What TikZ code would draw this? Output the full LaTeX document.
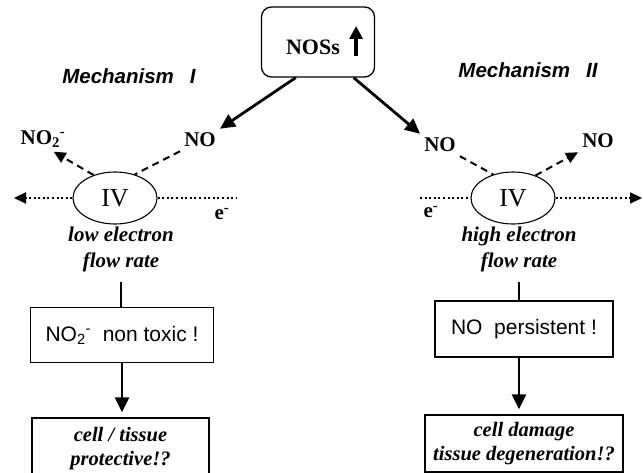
\documentclass[tikz,border=0pt]{standalone}
\usepackage{fontspec}
\setmainfont{Liberation Serif}
\setsansfont{Liberation Sans}
\usepackage{tikz}
\usetikzlibrary{arrows,arrows.meta,shapes.geometric}

\begin{document}
\begin{tikzpicture}[x=1pt,y=-1pt]

	\tikzstyle chem label=[font=\bfseries\fontsize{21}{22}\selectfont, inner sep=4pt];
	\tikzstyle mech title=[font=\sffamily\bfseries\itshape\fontsize{20.5}{22}\selectfont];
	\tikzstyle rate text=[font=\bfseries\itshape\fontsize{21}{26}\selectfont, align=center, inner sep=1pt];
	\tikzstyle complex IV=[draw, ellipse, line width=1.1pt, minimum width=84pt, minimum height=52pt, inner sep=0pt, font=\fontsize{26}{28}\selectfont];
	\tikzstyle result box=[draw, line width=1.3pt, font=\sffamily\fontsize{21}{22}\selectfont];
	\tikzstyle outcome box=[draw, line width=1.3pt, align=center, font=\bfseries\itshape\fontsize{20.5}{24}\selectfont];
	\tikzstyle main arrow=[line width=2.8pt, -{Triangle[length=15pt,width=14pt]}];
	\tikzstyle no path=[line width=2pt, dash pattern=on 7pt off 5pt];
	\tikzstyle electron path=[line width=2pt, dash pattern=on 2pt off 2.6pt];
	\tikzstyle small tip=[-{Triangle[length=12pt,width=11pt]}];

	\useasboundingbox (0,0) rectangle (643,473);

	% NOS box on top
	\node[draw, rounded corners=10pt, line width=1.3pt, minimum width=113pt, minimum height=70pt] (nos) at (318,42) {};
	\node[chem label, font=\bfseries\fontsize{22}{22}\selectfont] (nosTxt) at (313,47) {NOSs};
	\draw[line width=3.6pt, -{Triangle[length=13pt,width=13pt]}] (nosTxt.east) ++(12,9) -- ++(0,-30);

	\node[mech title] (mechI) at (129,76) {Mechanism\hspace{16pt}I};
	\node[mech title] (mechII) at (528,70) {Mechanism\hspace{16pt}II};

	% labels round the two complexes
	\foreach \n/\x/\y/\t in {noL/200/140/NO, noR/440/145/NO, noOut/598/141/NO, eL/222/214/e\textsuperscript{-}, eR/431/212/e\textsuperscript{-}}
		\node[chem label] (\n) at (\x,\y) {\t};
	\node[chem label] (noiiL) at (43,139) {NO\textsubscript{2}\textsuperscript{-}};

	\node[complex IV] (ivL) at (115,198) {IV};
	\node[complex IV] (ivR) at (513,198) {IV};

	\coordinate (eLend) at (14,198);
	\coordinate (eLstart) at (237,198);
	\coordinate (eRstart) at (420,198);
	\coordinate (eRend) at (642,198);

	\draw[main arrow] (nos.238) -- (noL.north east);
	\draw[main arrow] (nos.315) -- (noR.north west);

	\draw[no path] (noL.south west) -- (ivL.50);
	\draw[no path, small tip] (ivL.133) -- (noiiL.-50);
	\draw[no path] (noR.south east) -- (ivR.130);
	\draw[no path, small tip] (ivR.45) -- (noOut.south west);

	\draw[electron path, small tip] (ivL.west) -- (eLend);
	\draw[electron path] (ivL.east) -- (eLstart);
	\draw[electron path] (eRstart) -- (ivR.west);
	\draw[electron path, small tip] (ivR.east) -- (eRend);

	% the two outcomes
	\node[rate text] (rateL) at (121,249) {low electron\\flow rate};
	\node[rate text] (rateR) at (519,249) {high electron\\flow rate};

	\node[result box, minimum width=183pt, minimum height=55pt] (toxL) at (122,335) {NO\textsubscript{2}\textsuperscript{-}\ \ non toxic !};
	\node[result box, minimum width=178pt, minimum height=56pt] (persR) at (524,329) {NO\ \ persistent !};

	\node[outcome box, minimum width=177pt, minimum height=62pt] (outL) at (120.5,449) {cell / tissue\\protective!?};
	\node[outcome box, minimum width=198pt, minimum height=57pt] (outR) at (524,443.5) {cell damage\\tissue degeneration!?};

	\draw[line width=2.8pt, shorten <=9pt] (rateL.south) -- (rateL.south |- toxL.north);
	\draw[line width=2.8pt, shorten <=9pt] (rateR.south) -- (rateR.south |- persR.north);
	\draw[main arrow, shorten >=5pt] (toxL.south) -- (toxL.south |- outL.north);
	\draw[main arrow, shorten >=5pt] (rateR.south |- persR.south) -- (rateR.south |- outR.north);

\end{tikzpicture}
\end{document}
